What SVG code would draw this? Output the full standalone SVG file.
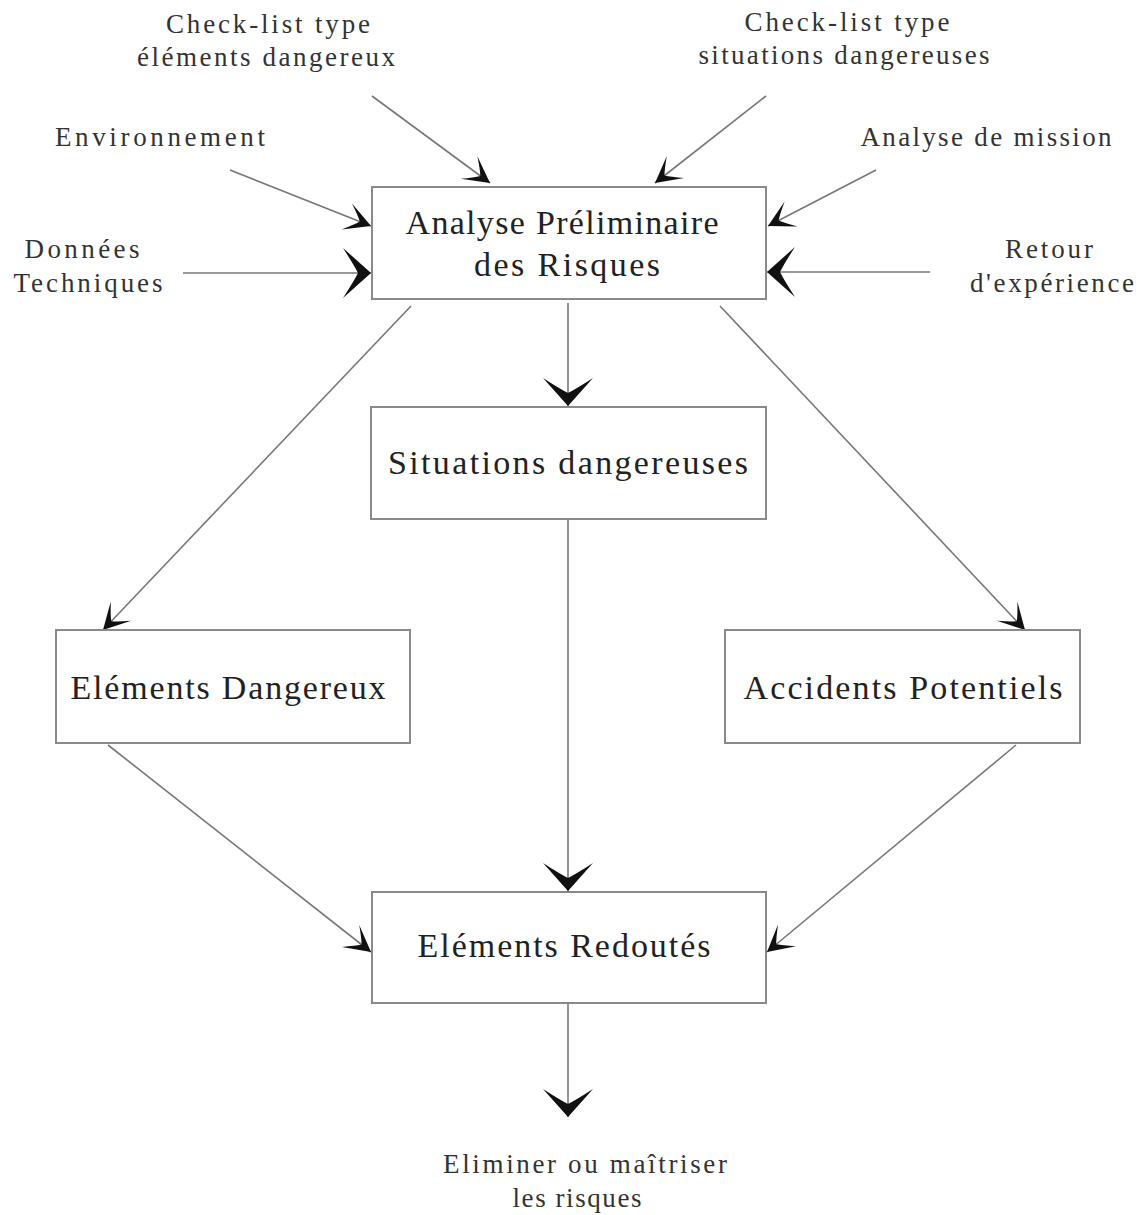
<svg xmlns="http://www.w3.org/2000/svg" width="1137" height="1215" viewBox="0 0 1137 1215">
<defs>
<style>
.box{fill:#fff;stroke:#8a8a8a;stroke-width:2}
.bt{font-family:"Liberation Serif","DejaVu Serif",serif;font-size:34px;fill:#222;text-anchor:middle}
.lb{font-family:"Liberation Serif","DejaVu Serif",serif;font-size:27px;fill:#333;text-anchor:middle}
.ln{stroke:#777;stroke-width:1.6;fill:none}
.sm{marker-end:url(#sa)}
.bg{marker-end:url(#ba)}
</style>
<marker id="sa" markerUnits="userSpaceOnUse" orient="auto" markerWidth="30" markerHeight="32" viewBox="-28 -16 30 32" refX="0" refY="0">
<path d="M0,0 L-26,-14 Q-16,-5 -12,0 Q-16,5 -26,14 Z" fill="#111"/>
</marker>
<marker id="ba" markerUnits="userSpaceOnUse" orient="auto" markerWidth="34" markerHeight="56" viewBox="-30 -28 32 56" refX="0" refY="0">
<path d="M0,0 L-28,-25 Q-17,-8 -13,0 Q-17,8 -28,25 Z" fill="#111"/>
</marker>
</defs>
<g id="connectors">
<line class="ln sm" x1="372" y1="96" x2="490" y2="183"/>
<line class="ln sm" x1="766" y1="96" x2="655" y2="183"/>
<line class="ln sm" x1="230" y1="170" x2="371" y2="226"/>
<line class="ln sm" x1="876" y1="170" x2="768" y2="226"/>
<line class="ln bg" x1="183" y1="273" x2="371" y2="273"/>
<line class="ln bg" x1="930" y1="272" x2="767" y2="272"/>
<line class="ln bg" x1="568" y1="303" x2="568" y2="406"/>
<line class="ln sm" x1="411" y1="306" x2="103" y2="630"/>
<line class="ln sm" x1="720" y1="306" x2="1025" y2="630"/>
<line class="ln bg" x1="568" y1="519" x2="568" y2="891"/>
<line class="ln sm" x1="108" y1="745" x2="371" y2="952"/>
<line class="ln sm" x1="1016" y1="745" x2="767" y2="952"/>
<line class="ln bg" x1="568" y1="1003" x2="568" y2="1117"/>
</g>
<g id="apr">
<rect class="box" x="372" y="187" width="394" height="112"/>
<text class="bt" x="562" y="234" textLength="313" lengthAdjust="spacing">Analyse Préliminaire</text>
<text class="bt" x="567" y="276" textLength="186" lengthAdjust="spacing">des Risques</text>
</g>
<g id="situations">
<rect class="box" x="371" y="407" width="395" height="112"/>
<text class="bt" x="568" y="474" textLength="360" lengthAdjust="spacing">Situations dangereuses</text>
</g>
<g id="elements-dangereux">
<rect class="box" x="56" y="630" width="354" height="113"/>
<text class="bt" x="228" y="699" textLength="315" lengthAdjust="spacing">Eléments Dangereux</text>
</g>
<g id="accidents">
<rect class="box" x="725" y="630" width="355" height="113"/>
<text class="bt" x="903" y="699" textLength="319" lengthAdjust="spacing">Accidents Potentiels</text>
</g>
<g id="redoutes">
<rect class="box" x="372" y="892" width="394" height="111"/>
<text class="bt" x="564" y="957" textLength="293" lengthAdjust="spacing">Eléments Redoutés</text>
</g>
<g id="label-checklist-elements">
<text class="lb" x="268" y="33" textLength="204" lengthAdjust="spacing">Check-list type</text>
<text class="lb" x="266" y="66" textLength="258" lengthAdjust="spacing">éléments dangereux</text>
</g>
<g id="label-checklist-situations">
<text class="lb" x="847" y="31" textLength="205" lengthAdjust="spacing">Check-list type</text>
<text class="lb" x="844" y="64" textLength="291" lengthAdjust="spacing">situations dangereuses</text>
</g>
<g id="label-environnement">
<text class="lb" x="160" y="146" textLength="210" lengthAdjust="spacing">Environnement</text>
</g>
<g id="label-mission">
<text class="lb" x="986" y="146" textLength="251" lengthAdjust="spacing">Analyse de mission</text>
</g>
<g id="label-donnees">
<text class="lb" x="82" y="258" textLength="115" lengthAdjust="spacing">Données</text>
<text class="lb" x="88" y="292" textLength="149" lengthAdjust="spacing">Techniques</text>
</g>
<g id="label-retour">
<text class="lb" x="1049" y="258" textLength="88" lengthAdjust="spacing">Retour</text>
<text class="lb" x="1052" y="292" textLength="164" lengthAdjust="spacing">d'expérience</text>
</g>
<g id="label-eliminer">
<text class="lb" x="585" y="1173" textLength="284" lengthAdjust="spacing">Eliminer ou maîtriser</text>
<text class="lb" x="577" y="1207" textLength="129" lengthAdjust="spacing">les risques</text>
</g>
</svg>
